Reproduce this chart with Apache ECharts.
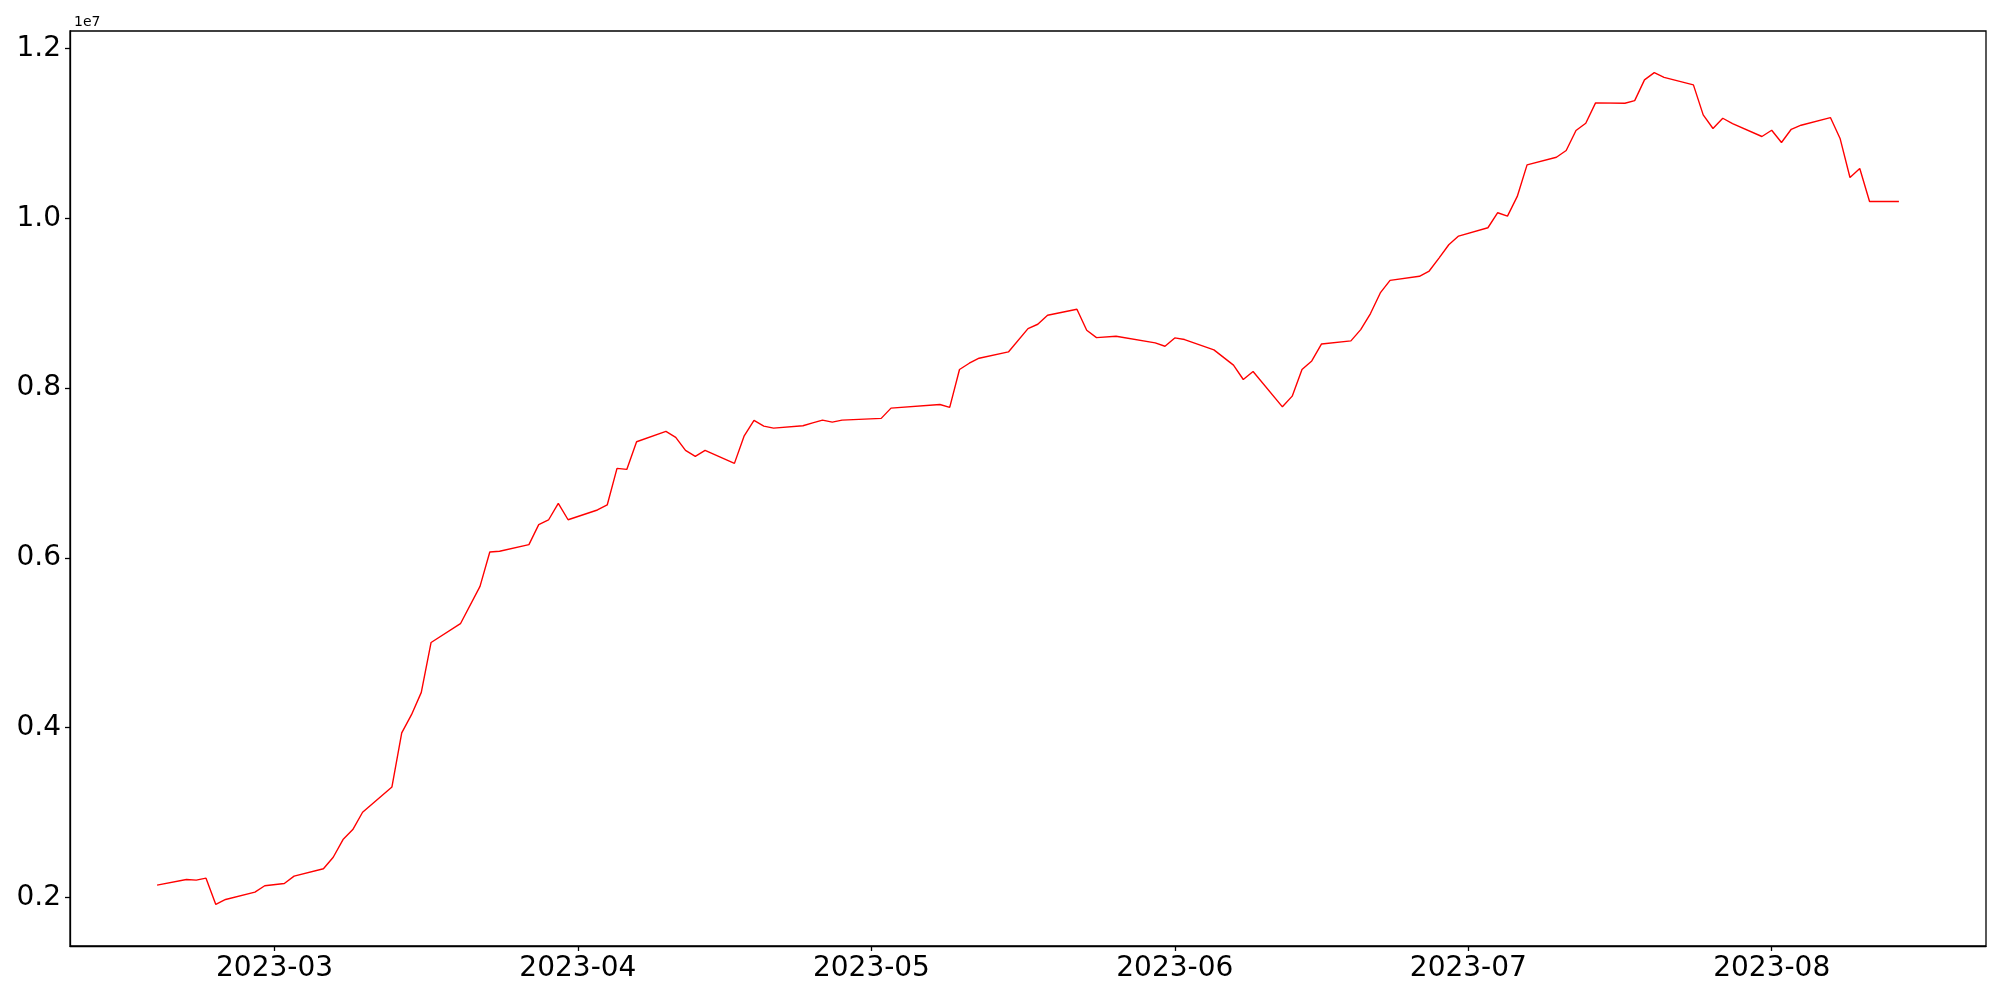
<!DOCTYPE html>
<html>
<head>
<meta charset="utf-8">
<script src="https://cdn.jsdelivr.net/npm/echarts@6/dist/echarts.min.js"></script>
<style>
html,body{margin:0;padding:0;background:#fff;}
#chart{width:2000px;height:1000px;}
</style>
</head>
<body>
<div id="chart"></div>
<script>
const dates = [
 '2023-02-17','2023-02-20','2023-02-21','2023-02-22','2023-02-23','2023-02-24','2023-02-27','2023-02-28',
 '2023-03-02','2023-03-03','2023-03-06','2023-03-07','2023-03-08','2023-03-09','2023-03-10',
 '2023-03-13','2023-03-14','2023-03-15','2023-03-16','2023-03-17','2023-03-20','2023-03-22',
 '2023-03-23','2023-03-24','2023-03-27','2023-03-28','2023-03-29','2023-03-30','2023-03-31',
 '2023-04-03','2023-04-04','2023-04-05','2023-04-06','2023-04-07','2023-04-10','2023-04-11',
 '2023-04-12','2023-04-13','2023-04-14','2023-04-17','2023-04-18','2023-04-19','2023-04-20',
 '2023-04-21','2023-04-24','2023-04-25','2023-04-26','2023-04-27','2023-04-28','2023-05-02',
 '2023-05-03','2023-05-08','2023-05-09','2023-05-10','2023-05-11','2023-05-12','2023-05-15',
 '2023-05-17','2023-05-18','2023-05-19','2023-05-22','2023-05-23','2023-05-24',
 '2023-05-26','2023-05-30','2023-05-31','2023-06-01','2023-06-02','2023-06-05','2023-06-07',
 '2023-06-08','2023-06-09','2023-06-12','2023-06-13','2023-06-14','2023-06-15','2023-06-16',
 '2023-06-19','2023-06-20','2023-06-21','2023-06-22','2023-06-23','2023-06-26','2023-06-27',
 '2023-06-28','2023-06-29','2023-06-30','2023-07-03','2023-07-04','2023-07-05','2023-07-06',
 '2023-07-07','2023-07-10','2023-07-11','2023-07-12','2023-07-13','2023-07-14','2023-07-17',
 '2023-07-18','2023-07-19','2023-07-20','2023-07-21','2023-07-24','2023-07-25','2023-07-26',
 '2023-07-27','2023-07-28','2023-07-31','2023-08-01','2023-08-02','2023-08-03','2023-08-04',
 '2023-08-07','2023-08-08','2023-08-09','2023-08-10','2023-08-11','2023-08-14'
];
const values = [
 2145000,2212000,2204000,2227000,1918000,1976000,2063000,2138000,
 2165000,2251000,2338000,2474000,2682000,2800000,3004000,
 3302000,3938000,4153000,4416000,5004000,5225000,5665000,
 6070000,6079000,6157000,6392000,6447000,6643000,6450000,
 6565000,6624000,7055000,7043000,7369000,7490000,7420000,
 7267000,7196000,7267000,7114000,7439000,7620000,7553000,
 7529000,7557000,7592000,7624000,7600000,7624000,7644000,
 7765000,7808000,7773000,8220000,8294000,8353000,8427000,
 8702000,8753000,8859000,8930000,8682000,8596000,
 8612000,8533000,8494000,8592000,8573000,8451000,8271000,
 8102000,8196000,7780000,7906000,8220000,8321000,8521000,
 8557000,8690000,8879000,9122000,9270000,9318000,9380000,
 9533000,9690000,9792000,9890000,10067000,10027000,10259000,
 10631000,10721000,10800000,11035000,11121000,11361000,11357000,
 11388000,11632000,11718000,11662000,11573000,11220000,11059000,
 11180000,11118000,10965000,11039000,10894000,11050000,11098000,
 11188000,10938000,10482000,10588000,10200000,10200000
];
const xTickLabels = ['2023-03','2023-04','2023-05','2023-06','2023-07','2023-08'];
const yTickValues = [2000000,4000000,6000000,8000000,10000000,12000000];

function toTs(s){const p=s.split('-').map(Number);return new Date(p[0],p[1]-1,p[2]||1).getTime();}
const ts = dates.map(toTs);
const seriesData = ts.map((t,i)=>[t,values[i]]);
const xMinD = Math.min(...ts), xMaxD = Math.max(...ts);
const xPad = (xMaxD-xMinD)*0.05;
const yMinD = Math.min(...values), yMaxD = Math.max(...values);
const yPad = (yMaxD-yMinD)*0.05;
const xTicks = xTickLabels.map(toTs);
function pad2(n){return (n<10?'0':'')+n;}

const chart = echarts.init(document.getElementById('chart'), null, {renderer:'canvas'});
const FONT = 'DejaVu Sans';
chart.setOption({
  animation:false,
  backgroundColor:'#ffffff',
  textStyle:{fontFamily:FONT},
  grid:{left:70,right:14,top:31,bottom:54,containLabel:false,outerBoundsMode:'none',
        show:true,borderColor:'#000',borderWidth:1.3,backgroundColor:'transparent'},
  title:{text:'1e7',left:69,top:10,textStyle:{fontFamily:FONT,fontSize:14,fontWeight:'normal',color:'#000'}},
  xAxis:{
    type:'value', min:xMinD-xPad, max:xMaxD+xPad,
    splitLine:{show:false},
    axisLine:{show:true,onZero:false,lineStyle:{color:'#000',width:1.3}},
    axisTick:{show:true,length:5,lineStyle:{color:'#000',width:1.3},customValues:xTicks},
    axisLabel:{customValues:xTicks,fontFamily:FONT,fontSize:28,color:'#000',margin:9,
      formatter:function(v){const d=new Date(v);return d.getFullYear()+'-'+pad2(d.getMonth()+1);}}
  },
  yAxis:{
    type:'value', min:yMinD-yPad, max:yMaxD+yPad,
    splitLine:{show:false},
    axisLine:{show:true,onZero:false,lineStyle:{color:'#000',width:1.3}},
    axisTick:{show:true,length:5,lineStyle:{color:'#000',width:1.3},customValues:yTickValues},
    axisLabel:{customValues:yTickValues,fontFamily:FONT,fontSize:28,color:'#000',margin:9,
      formatter:function(v){return (v/1e7).toFixed(1);}}
  },
  series:[{
    type:'line', data:seriesData, showSymbol:false, symbol:'none',
    lineStyle:{color:'#ff0000',width:1.4}, itemStyle:{color:'#ff0000'}
  }]
});
</script>
</body>
</html>
